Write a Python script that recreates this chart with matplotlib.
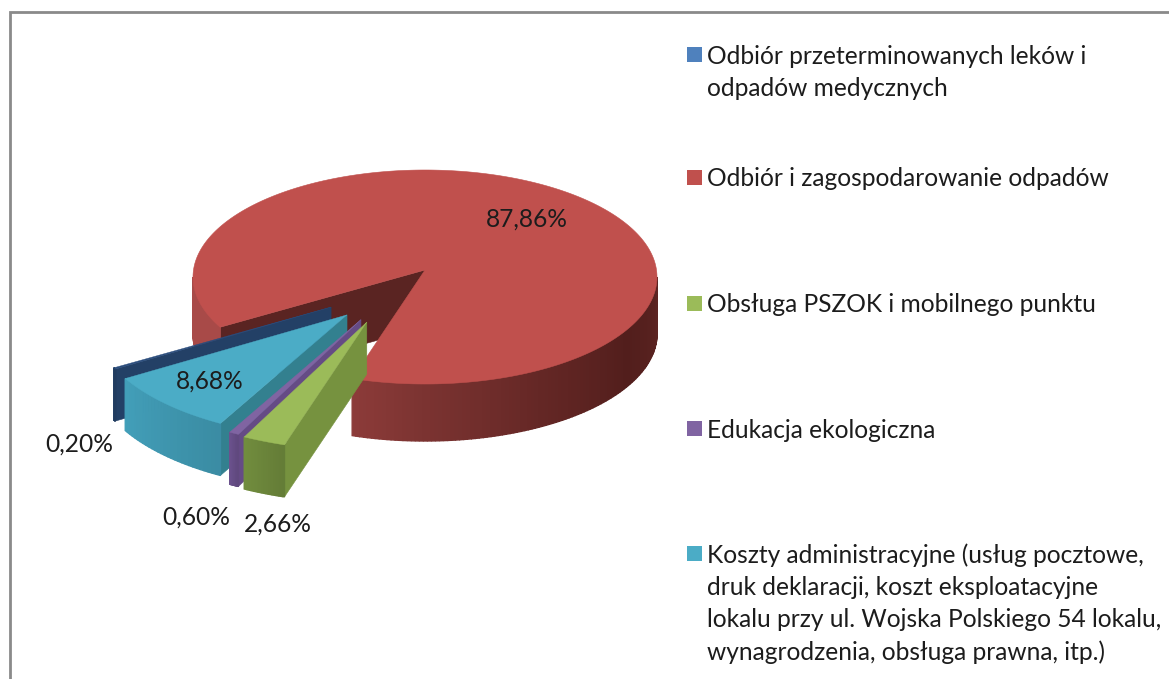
import numpy as np
import matplotlib
matplotlib.use("Agg")
import matplotlib.pyplot as plt
from matplotlib.patches import Polygon, Rectangle

# ---- data ----
categories = ["Odbiór przeterminowanych leków i\nodpadów medycznych",
              "Odbiór i zagospodarowanie odpadów",
              "Obsługa PSZOK i mobilnego punktu",
              "Edukacja ekologiczna",
              "Koszty administracyjne (usług pocztowe,\ndruk deklaracji, koszt eksploatacyjne\nlokalu przy ul. Wojska Polskiego 54 lokalu,\nwynagrodzenia, obsługa prawna, itp.)"]
values = [0.20, 87.86, 2.66, 0.60, 8.68]
value_labels = ["0,20%", "87,86%", "2,66%", "0,60%", "8,68%"]

# ---- style ----
top_cols = ["#2A4C7C", "#C0504D", "#9BBB59", "#8064A2", "#4BACC6"]
wall_cols = ["#234066", "#5A2422", "#76923F", "#654B85", "#33808F"]
side_cols = ["#234066", None, "#6C863B", "#674E88", "#3F97B0"]
legend_cols = ["#4F81BD", "#C0504D", "#9BBB59", "#8064A2", "#4BACC6"]
explode_xy = [(0.46, 0.73), (0, 0), (0.64, 0.53), (0.57, 0.53), (0.47, 0.60)]
scales = [1.06, 1.0, 1.13, 1.13, 1.09]
depths = [52, 57, 52, 52, 52]
label_xy = [(79, 444), (527, 219), (278, 524), (196, 517), (210, 381)]
legend_y = [56, 179, 305, 430, 555]
LINE = 32.4
FS = 17.65
CX, CY, RX, RY = 425, 277, 232, 107
AX, AY = 425, 270
START = 208.0  # angle where the red slice begins

plt.rcParams["font.family"] = ["Lato", "DejaVu Sans"]
fig = plt.figure(figsize=(11.69, 6.79), dpi=100)
ax = fig.add_axes([0, 0, 1, 1])
ax.set_xlim(0, 1169)
ax.set_ylim(679, 0)
ax.axis("off")

# outer frame
ax.plot([9.5, 9.5, 1169], [679, 11.5, 11.5], color="#8A8A8A", lw=2.0, solid_joinstyle="miter")


def rim(t, ox, oy, s):
    r = np.radians(t)
    x = CX + RX * np.cos(r)
    y = CY - RY * np.sin(r)
    return ox + s * (x - AX), oy + s * (y - AY)


def mix(c, f):
    rgb = np.array(matplotlib.colors.to_rgb(c))
    return tuple(np.clip(rgb * f, 0, 1))


# slice angles, going clockwise from the blue slice
sweep = [v / sum(values) * 360 for v in values]
a_hi = [0.0] * 5
a_lo = [0.0] * 5
a_lo[0], a_hi[0] = START, START + sweep[0]
a_hi[1], a_lo[1] = START, START - sweep[1]
a_lo[2], a_hi[2] = a_lo[1] + 360 - sweep[2], a_lo[1] + 360
a_lo[3], a_hi[3] = a_lo[2] - sweep[3], a_lo[2]
a_lo[4], a_hi[4] = a_lo[3] - sweep[4], a_lo[3]

RED_STOPS = [(180, "#A84A48"), (209, "#A84A48"), (252, "#8C3B39"), (270, "#7B3331"),
             (300, "#642725"), (330, "#521E1C"), (360, "#5C2422")]


def red_side(t):
    xs = [p[0] for p in RED_STOPS]
    rgb = np.array([matplotlib.colors.to_rgb(p[1]) for p in RED_STOPS])
    return tuple(np.interp(t, xs, rgb[:, k]) for k in range(3))


def strip(t0, t1, ox, oy, s, d, c, z):
    xa, ya = rim(t0, ox, oy, s)
    xb, yb = rim(t1, ox, oy, s)
    ax.add_patch(Polygon([(xa, ya), (xb, yb), (xb, yb + d), (xa, ya + d)],
                         fc=c, ec=c, lw=1.0, zorder=z))


def draw_slice(i):
    ex, ey = explode_xy[i]
    m = np.radians((a_hi[i] + a_lo[i]) / 2)
    ox = AX + ex * RX * np.cos(m)
    oy = AY - ey * RY * np.sin(m)
    s = scales[i]
    d = depths[i]
    if i == 1:
        x0, y0 = rim(START, ox, oy, s)
        ax.add_patch(Polygon([(ox, oy), (x0, y0), (x0, y0 + d), (ox, oy + d)],
                             fc=wall_cols[1], ec=wall_cols[1], lw=0.4, zorder=2))
        for lo, hi in ((180, START), (a_lo[1] + 360, 360)):
            tt = np.linspace(lo, hi, int(hi - lo) + 2)
            for a, b in zip(tt[:-1], tt[1:]):
                strip(a, b, ox, oy, s, d, red_side(a), 2)
        tt = np.linspace(START, a_lo[1], 400)
        xs, ys = rim(tt, ox, oy, s)
        ax.add_patch(Polygon(np.r_[[(ox, oy)], np.c_[xs, ys]], fc=top_cols[1], ec=top_cols[1], lw=0.4, zorder=3))
        return
    z = 4 + {0: 0, 4: 1, 3: 2, 2: 3}[i]
    xr, yr = rim(a_hi[i], ox, oy, s)
    ax.add_patch(Polygon([(ox, oy), (xr, yr), (xr, yr + d), (ox, oy + d)],
                         fc=wall_cols[i], ec=wall_cols[i], lw=0.4, zorder=z))
    tt = np.linspace(a_lo[i], a_hi[i], 30)
    for k, (a, b) in enumerate(zip(tt[:-1], tt[1:])):
        strip(a, b, ox, oy, s, d, mix(side_cols[i], 1.05 - 0.12 * k / 28), z)
    xs, ys = rim(tt, ox, oy, s)
    ax.add_patch(Polygon(np.r_[[(ox, oy)], np.c_[xs, ys]], fc=top_cols[i], ec=top_cols[i], lw=0.3, zorder=z))


for i in (1, 0, 4, 3, 2):
    draw_slice(i)

# value labels
for lab, (x, y) in zip(value_labels, label_xy):
    ax.text(x, y, lab, ha="center", va="center", fontsize=FS, color="#1C1C1C", zorder=20)

# legend
for cat, col, y in zip(categories, legend_cols, legend_y):
    ax.add_patch(Rectangle((687, y - 9), 15, 15, fc=col, ec="none", zorder=20))
    for k, line in enumerate(cat.split("\n")):
        ax.text(707, y + k * LINE, line, ha="left", va="center", fontsize=FS, color="#1C1C1C", zorder=20)

fig.savefig("out.png", dpi=100, facecolor="white")
